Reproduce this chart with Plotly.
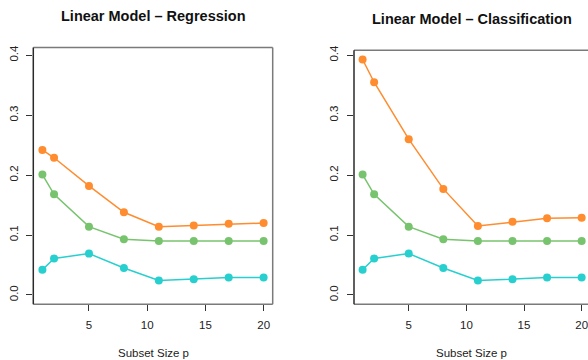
import plotly.graph_objects as go

subset_size = [1, 2, 5, 8, 11, 14, 17, 20]

reg_orange = [0.242, 0.229, 0.182, 0.138, 0.114, 0.116, 0.119, 0.120]
reg_green = [0.201, 0.168, 0.114, 0.093, 0.090, 0.090, 0.090, 0.090]
reg_cyan = [0.042, 0.061, 0.069, 0.045, 0.024, 0.026, 0.029, 0.029]

cls_orange = [0.393, 0.355, 0.260, 0.177, 0.115, 0.122, 0.128, 0.129]
cls_green = [0.201, 0.168, 0.114, 0.093, 0.090, 0.090, 0.090, 0.090]
cls_cyan = [0.042, 0.061, 0.069, 0.045, 0.024, 0.026, 0.029, 0.029]

titles = ["Linear Model \u2013 Regression", "Linear Model \u2013 Classification"]
x_ticks = [5, 10, 15, 20]
y_ticks = [0.0, 0.1, 0.2, 0.3, 0.4]
y_tick_text = ["0.0", "0.1", "0.2", "0.3", "0.4"]
x_label = "Subset Size p"

ORANGE = "#FF8C2E"
GREEN = "#78C46E"
CYAN = "#28CFCF"

W, H = 588, 360
FONT = "Liberation Sans, Arial, Helvetica, sans-serif"

fig = go.Figure()

panels = [
    dict(series=[reg_orange, reg_green, reg_cyan], xa="x", ya="y",
         xdom=(33.3, 272.7), ydom=(43, 303.5), xr=(0.218, 20.78), yr=(-0.0156, 0.4132)),
    dict(series=[cls_orange, cls_green, cls_cyan], xa="x2", ya="y2",
         xdom=(354, 588), ydom=(46, 303.5), xr=(0.254, 20.55), yr=(-0.0156, 0.4082)),
]

for i, p in enumerate(panels):
    for vals, col in zip(p["series"], [ORANGE, GREEN, CYAN]):
        fig.add_trace(go.Scatter(
            x=subset_size, y=vals, mode="lines+markers",
            line=dict(color=col, width=1.5),
            marker=dict(color=col, size=8),
            xaxis=p["xa"], yaxis=p["ya"], showlegend=False, cliponaxis=False))

def axis_common():
    return dict(showgrid=False, zeroline=False, showline=False,
                ticks="outside", ticklen=6, tickwidth=1.2, tickcolor="#333",
                ticklabeloverflow="allow",
                tickfont=dict(family=FONT, size=11.5, color="#222"))

layout = dict(width=W, height=H, margin=dict(l=0, r=0, t=0, b=0),
              paper_bgcolor="white", plot_bgcolor="white", showlegend=False)

shapes = []
annotations = []
for i, p in enumerate(panels):
    sfx = "" if i == 0 else "2"
    x0, x1 = p["xdom"]
    ytop, ybot = p["ydom"]
    xd = [x0 / W, x1 / W]
    yd = [(H - ybot) / H, (H - ytop) / H]
    xa = axis_common()
    xa.update(domain=xd, range=list(p["xr"]), tickvals=x_ticks,
              ticktext=[str(t) for t in x_ticks], anchor="y" + sfx,
              ticklabelstandoff=4)
    ya = axis_common()
    ya.update(domain=yd, range=list(p["yr"]), tickvals=y_ticks,
              ticktext=y_tick_text, tickangle=-90, anchor="x" + sfx,
              ticklabelstandoff=4)
    layout["xaxis" + sfx] = xa
    layout["yaxis" + sfx] = ya
    xref = "x" + sfx + " domain"
    yref = "y" + sfx + " domain"
    gray = dict(color="#7a7a7a", width=1.5)
    dark = dict(color="#2a2a2a", width=1.5)
    shapes.append(dict(type="line", xref=xref, yref=yref, x0=0, x1=1, y0=1, y1=1, line=gray))
    shapes.append(dict(type="line", xref=xref, yref=yref, x0=0, x1=1, y0=0, y1=0, line=gray))
    if i == 0:
        shapes.append(dict(type="line", xref=xref, yref=yref, x0=1, x1=1, y0=0, y1=1, line=gray))
    shapes.append(dict(type="line", xref=xref, yref=yref, x0=0, x1=0, y0=0, y1=1, line=dark))

    cx = (x0 + x1) / 2 / W if i == 0 else 471.8 / W
    ty = 11 if i == 0 else 14
    annotations.append(dict(text="<b>" + titles[i] + "</b>", xref="paper", yref="paper",
                            x=cx, y=(H - ty) / H, xanchor="center", yanchor="middle",
                            showarrow=False, font=dict(family=FONT, size=14.5, color="#111")))
    lx = 153 / W if i == 0 else 471.5 / W
    annotations.append(dict(text=x_label, xref="paper", yref="paper",
                            x=lx, y=(H - 353) / H, xanchor="center", yanchor="middle",
                            showarrow=False, font=dict(family=FONT, size=11.5, color="#222")))

layout["shapes"] = shapes
layout["annotations"] = annotations
fig.update_layout(**layout)
fig.write_html("out.html")
